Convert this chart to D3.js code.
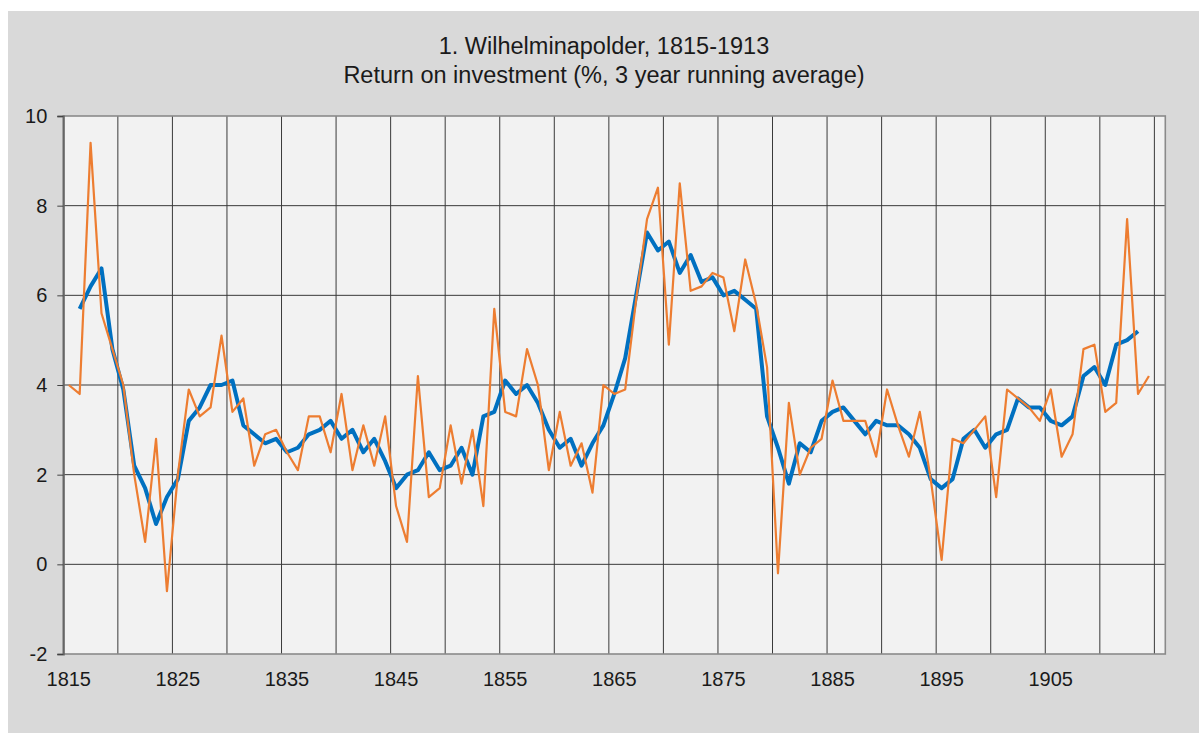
<!DOCTYPE html>
<html>
<head>
<meta charset="utf-8">
<script src="https://cdn.jsdelivr.net/npm/d3@7/dist/d3.min.js"></script>
<style>
  html, body { margin: 0; padding: 0; background: #fff; }
  svg { display: block; font-family: "Liberation Sans", Arial, sans-serif; }
</style>
</head>
<body>
<div id="chart"></div>
<script>
/* ---- data ---- */
const titleLines = ['1. Wilhelminapolder, 1815-1913', 'Return on investment (%, 3 year running average)'];
const categories = d3.range(1815, 1916);          // category axis 1815 .. 1915
const xTickLabels = [1815, 1825, 1835, 1845, 1855, 1865, 1875, 1885, 1895, 1905];
const yTicks = [-2, 0, 2, 4, 6, 8, 10];

// yearly return, 1815 .. 1914
const annualStart = 1815;
const annualReturn = [
  4.0, 3.8, 9.4, 5.6, 4.8, 4.0, 2.0, 0.5, 2.8, -0.6,
  2.0, 3.9, 3.3, 3.5, 5.1, 3.4, 3.7, 2.2, 2.9, 3.0,
  2.5, 2.1, 3.3, 3.3, 2.5, 3.8, 2.1, 3.1, 2.2, 3.3,
  1.3, 0.5, 4.2, 1.5, 1.7, 3.1, 1.8, 3.0, 1.3, 5.7,
  3.4, 3.3, 4.8, 4.0, 2.1, 3.4, 2.2, 2.7, 1.6, 4.0,
  3.8, 3.9, 5.9, 7.7, 8.4, 4.9, 8.5, 6.1, 6.2, 6.5,
  6.4, 5.2, 6.8, 5.8, 4.4, -0.2, 3.6, 2.0, 2.6, 2.8,
  4.1, 3.2, 3.2, 3.2, 2.4, 3.9, 3.1, 2.4, 3.4, 1.9,
  0.1, 2.8, 2.7, 3.0, 3.3, 1.5, 3.9, 3.7, 3.5, 3.2,
  3.9, 2.4, 2.9, 4.8, 4.9, 3.4, 3.6, 7.7, 3.8, 4.2
];

// 3 year running average, 1816 .. 1913
const avgStart = 1816;
const runningAvg = [
  5.7, 6.2, 6.6, 4.8, 3.9, 2.2, 1.7, 0.9, 1.5,
  1.9, 3.2, 3.5, 4.0, 4.0, 4.1, 3.1, 2.9, 2.7, 2.8,
  2.5, 2.6, 2.9, 3.0, 3.2, 2.8, 3.0, 2.5, 2.8, 2.3,
  1.7, 2.0, 2.1, 2.5, 2.1, 2.2, 2.6, 2.0, 3.3, 3.4,
  4.1, 3.8, 4.0, 3.6, 3.0, 2.6, 2.8, 2.2, 2.7, 3.1,
  3.8, 4.6, 6.0, 7.4, 7.0, 7.2, 6.5, 6.9, 6.3, 6.4,
  6.0, 6.1, 5.9, 5.7, 3.3, 2.6, 1.8, 2.7, 2.5, 3.2,
  3.4, 3.5, 3.2, 2.9, 3.2, 3.1, 3.1, 2.9, 2.6, 1.9,
  1.7, 1.9, 2.8, 3.0, 2.6, 2.9, 3.0, 3.7, 3.5, 3.5,
  3.2, 3.1, 3.3, 4.2, 4.4, 4.0, 4.9, 5.0, 5.2
];

/* ---- layout ---- */
const W = 1199, H = 733;
const plot = { left: 63.3, right: 1165.3, top: 116, bottom: 654 };

const svg = d3.select('#chart').append('svg').attr('width', W).attr('height', H);

svg.append('rect').attr('x', 8).attr('y', 11).attr('width', W - 8).attr('height', H - 11).attr('fill', '#d9d9d9');
svg.append('rect')
  .attr('x', plot.left).attr('y', plot.top)
  .attr('width', plot.right - plot.left).attr('height', plot.bottom - plot.top)
  .attr('fill', '#f2f2f2');

const x = d3.scaleBand().domain(categories).range([plot.left, plot.right]).padding(0);
const y = d3.scaleLinear().domain([-2, 10]).range([plot.bottom, plot.top]);
const cx = yr => x(yr) + x.bandwidth() / 2;

/* gridlines */
const grid = svg.append('g').attr('stroke', '#3a3a3a').attr('stroke-width', 1);
grid.selectAll('line.h').data(yTicks.filter(v => v > -2 && v < 10)).join('line').attr('class', 'h')
  .attr('x1', plot.left).attr('x2', plot.right).attr('y1', d => y(d)).attr('y2', d => y(d));
grid.selectAll('line.v').data(categories.filter(c => c > 1815 && (c - 1815) % 5 === 0)).join('line').attr('class', 'v')
  .attr('x1', d => x(d)).attr('x2', d => x(d)).attr('y1', plot.top).attr('y2', plot.bottom);

/* plot border */
svg.append('rect')
  .attr('x', plot.left).attr('y', plot.top)
  .attr('width', plot.right - plot.left).attr('height', plot.bottom - plot.top)
  .attr('fill', 'none').attr('stroke', '#8a8a8a').attr('stroke-width', 1.6);

/* axes */
const yAxis = svg.append('g').attr('transform', `translate(${plot.left},0)`)
  .call(d3.axisLeft(y).tickValues(yTicks).tickSize(6).tickPadding(10).tickFormat(d => String(d)));
yAxis.select('.domain').attr('stroke', '#666').attr('stroke-width', 2);
yAxis.selectAll('.tick line').attr('stroke', '#444');
yAxis.selectAll('text').attr('fill', '#1a1a1a').style('font-size', '20px').style('font-family', '"Liberation Sans", Arial, sans-serif');

const xAxis = svg.append('g').attr('transform', `translate(0,${plot.bottom})`)
  .call(d3.axisBottom(x).tickValues(xTickLabels).tickSize(0).tickPadding(18));
xAxis.select('.domain').remove();
xAxis.selectAll('text').attr('fill', '#1a1a1a').style('font-size', '20px').style('font-family', '"Liberation Sans", Arial, sans-serif');

/* series */
const line = d3.line().x(d => cx(d.year)).y(d => y(d.v));
const avgPts = runningAvg.map((v, i) => ({ year: avgStart + i, v }));
const annPts = annualReturn.map((v, i) => ({ year: annualStart + i, v }));

svg.append('path').datum(avgPts).attr('d', line)
  .attr('fill', 'none').attr('stroke', '#0070c0').attr('stroke-width', 4).attr('stroke-linejoin', 'round');
svg.append('path').datum(annPts).attr('d', line)
  .attr('fill', 'none').attr('stroke', '#ed7d31').attr('stroke-width', 2.2).attr('stroke-linejoin', 'round');

/* title */
svg.append('g').selectAll('text').data(titleLines).join('text')
  .attr('x', 604).attr('y', (d, i) => 54 + i * 29)
  .attr('text-anchor', 'middle').attr('fill', '#1a1a1a')
  .style('font-size', '23.5px')
  .text(d => d);
</script>
</body>
</html>
